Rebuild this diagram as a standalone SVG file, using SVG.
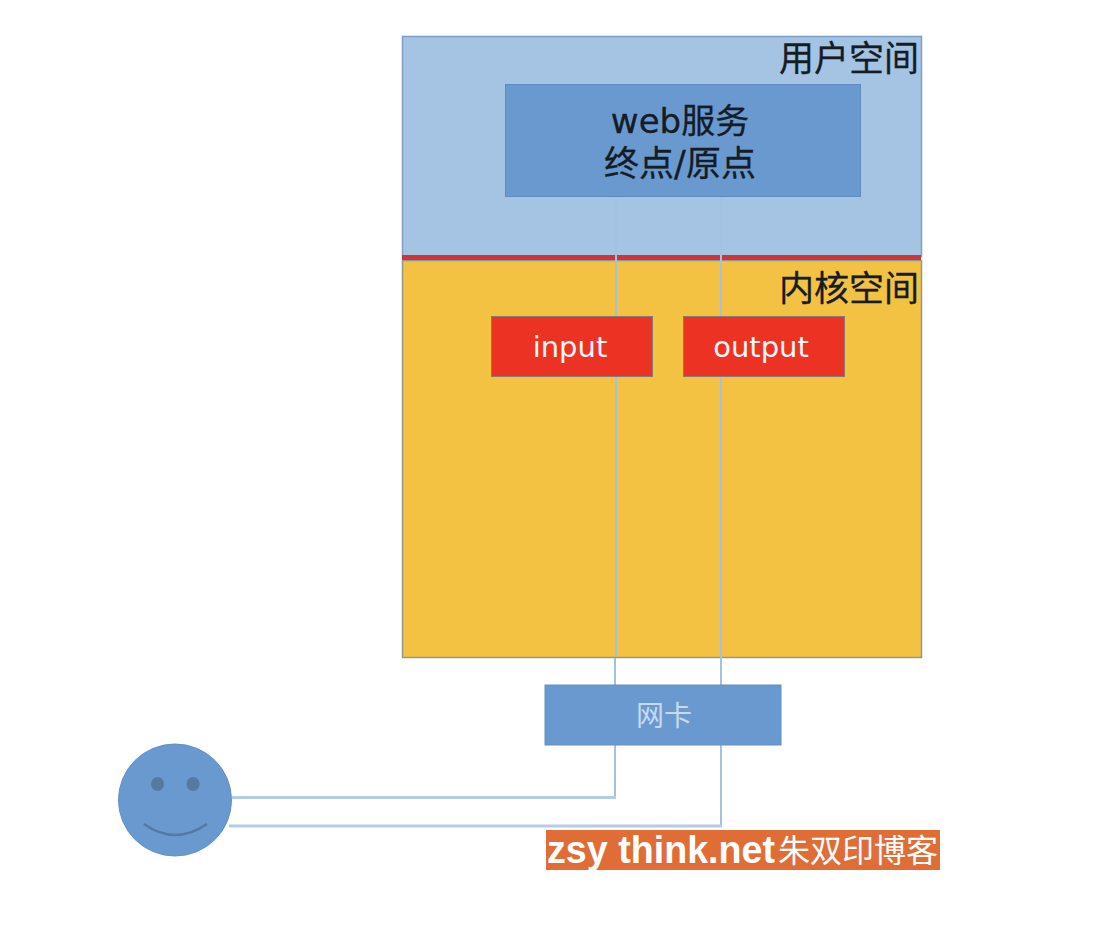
<svg xmlns="http://www.w3.org/2000/svg" width="1118" height="938" viewBox="0 0 1118 938">
<style>
.cjk{font-family:"DejaVu Sans","Noto Sans CJK SC",sans-serif}
.dark{fill:#141c26;stroke:#141c26;stroke-width:.3}
.lt{fill:#f4f6fa}
.c{text-anchor:middle}
.conn{fill:none;stroke:#a3c1e2;stroke-width:2}
.conh{fill:none;stroke:#b3cde8;stroke-width:3}
</style>
<rect width="1118" height="938" fill="#fff"/>
<g id="user-space"><rect x="402.500" y="36.500" width="519" height="220" fill="#a5c3e2" stroke="#7d9fc8" stroke-width="1.500"/>
<text class="cjk dark" x="919" y="71" font-size="35" text-anchor="end">用户空间</text></g>
<g id="kernel-space"><rect x="402.500" y="260.500" width="519" height="397" fill="#f4c242" stroke="#8c9a90" stroke-width="1.500"/>
<text class="cjk dark" x="919" y="301" font-size="35" text-anchor="end">内核空间</text></g>
<g id="divider"><rect x="402" y="255" width="519" height="5" fill="#d0343a"/></g>
<g id="web-service"><rect x="505.500" y="84.500" width="355" height="112" fill="#6a99d0" stroke="#5f8bbf"/>
<text class="cjk dark c" x="680" y="133" font-size="34">web服务</text>
<text class="cjk dark c" x="680" y="176" font-size="35">终点/原点</text></g>
<g id="connectors">
<path class="conn" d="M616 197V656M615 658V797"/>
<path class="conn" d="M721 197V826"/>
<path class="conh" d="M232 797.500H616M229 826H722"/>
</g>
<g id="input"><rect x="491.500" y="316.500" width="161" height="60" fill="#ec3323" stroke="#8a7a70"/>
<text class="cjk lt c" x="570" y="357" font-size="29">input</text></g>
<g id="output"><rect x="683.500" y="316.500" width="161" height="60" fill="#ec3323" stroke="#8a7a70"/>
<text class="cjk lt c" x="761" y="357" font-size="29">output</text></g>
<g id="nic"><rect x="545" y="685" width="236" height="60" fill="#6a99d0" stroke="#6390c6"/>
<text class="cjk c" fill="#c6d9ee" x="664" y="726" font-size="28">网卡</text></g>
<g id="user">
<ellipse cx="175" cy="800" rx="56.500" ry="56" fill="#6a99d0" stroke="#6390c6"/>
<ellipse cx="157.500" cy="784" rx="6.500" ry="7" fill="#55799f"/>
<ellipse cx="193" cy="784" rx="6.500" ry="7" fill="#55799f"/>
<path d="M144 824Q175 846 207 824" fill="none" stroke="#55799f" stroke-width="2.500"/>
</g>
<g id="watermark"><rect x="546" y="830" width="394" height="40" fill="#e06d36"/>
<text x="547" y="863" font-family="'Liberation Sans',sans-serif" font-weight="700" font-size="38" fill="#fff" textLength="228" lengthAdjust="spacingAndGlyphs">zsy think.net</text>
<text font-family="'Noto Sans CJK SC',sans-serif" x="778" y="862" font-size="32" fill="#fff" textLength="160">朱双印博客</text></g>
</svg>
